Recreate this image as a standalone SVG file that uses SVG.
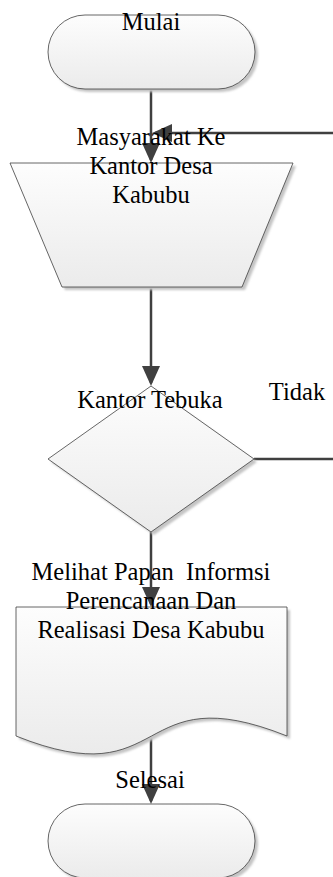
<svg xmlns="http://www.w3.org/2000/svg" width="333" height="877" viewBox="0 0 333 877">
  <defs>
    <linearGradient id="shapeFill" x1="0" y1="0" x2="0" y2="1">
      <stop offset="0" stop-color="#fdfdfd"/>
      <stop offset="1" stop-color="#ebebeb"/>
    </linearGradient>
    <filter id="soft" x="-10%" y="-10%" width="120%" height="120%">
      <feGaussianBlur stdDeviation="0.8"/>
    </filter>
    <marker id="arrow" markerUnits="userSpaceOnUse" markerWidth="20" markerHeight="18" refX="17" refY="9" orient="auto">
      <path d="M0,0 L20,9 L0,18 z" fill="#404040"/>
    </marker>
  </defs>
  <style>
    .shape { fill: url(#shapeFill); stroke: #404040; stroke-width: 0.8; }
    .shadow { fill: #c4c4c4; stroke: none; filter: url(#soft); }
    .conn { fill: none; stroke: #404040; stroke-width: 2.5; }
    .label { font-family: "Liberation Serif", "Times New Roman", serif; font-size: 24.5px; fill: #000; text-anchor: middle; white-space: pre; }
  </style>

  <!-- connectors -->
  <g id="connectors">
    <path class="conn" d="M151,89 V160" marker-end="url(#arrow)"/>
    <path class="conn" d="M151,287 V383" marker-end="url(#arrow)"/>
    <path class="conn" d="M151,532 V604" marker-end="url(#arrow)"/>
    <path class="conn" d="M151,736 V801" marker-end="url(#arrow)"/>
    <!-- "Tidak" branch loops back to the office step -->
    <path class="conn" d="M254,459 H345 V133 H155" marker-end="url(#arrow)"/>
  </g>

  <!-- start terminator -->
  <g id="mulai">
    <rect class="shadow" x="51" y="18" width="207" height="74" rx="37" ry="37"/>
    <rect class="shape" x="48" y="15" width="207" height="74" rx="37" ry="37"/>
    <text class="label" x="151" y="30">Mulai</text>
  </g>

  <!-- manual operation (trapezoid) -->
  <g id="ke-kantor">
    <polygon class="shadow" points="13,166 296,166 245,290 65,290"/>
    <polygon class="shape" points="10,163 293,163 242,287 62,287"/>
    <text class="label" x="151" y="145">Masyarakat Ke</text>
    <text class="label" x="151" y="174">Kantor Desa</text>
    <text class="label" x="151" y="203">Kabubu</text>
  </g>

  <!-- decision -->
  <g id="kantor-tebuka">
    <polygon class="shadow" points="154,389 257,462 154,535 51,462"/>
    <polygon class="shape" points="151,386 254,459 151,532 48,459"/>
    <text class="label" x="150" y="408">Kantor Tebuka</text>
    <text class="label" x="297" y="400">Tidak</text>
  </g>

  <!-- document -->
  <g id="papan-informasi">
    <path class="shadow" d="M19,610 H290 V739 C135,677 174,801 19,739 Z"/>
    <path class="shape" d="M16,607 H287 V736 C132,674 171,798 16,736 Z"/>
    <text class="label" x="151" y="580">Melihat Papan  Informsi</text>
    <text class="label" x="151" y="609">Perencanaan Dan</text>
    <text class="label" x="151" y="638">Realisasi Desa Kabubu</text>
  </g>

  <!-- end terminator -->
  <g id="selesai">
    <rect class="shadow" x="51" y="807" width="207" height="74" rx="37" ry="37"/>
    <rect class="shape" x="48" y="804" width="207" height="74" rx="37" ry="37"/>
    <text class="label" x="150" y="788">Selesai</text>
  </g>
</svg>
